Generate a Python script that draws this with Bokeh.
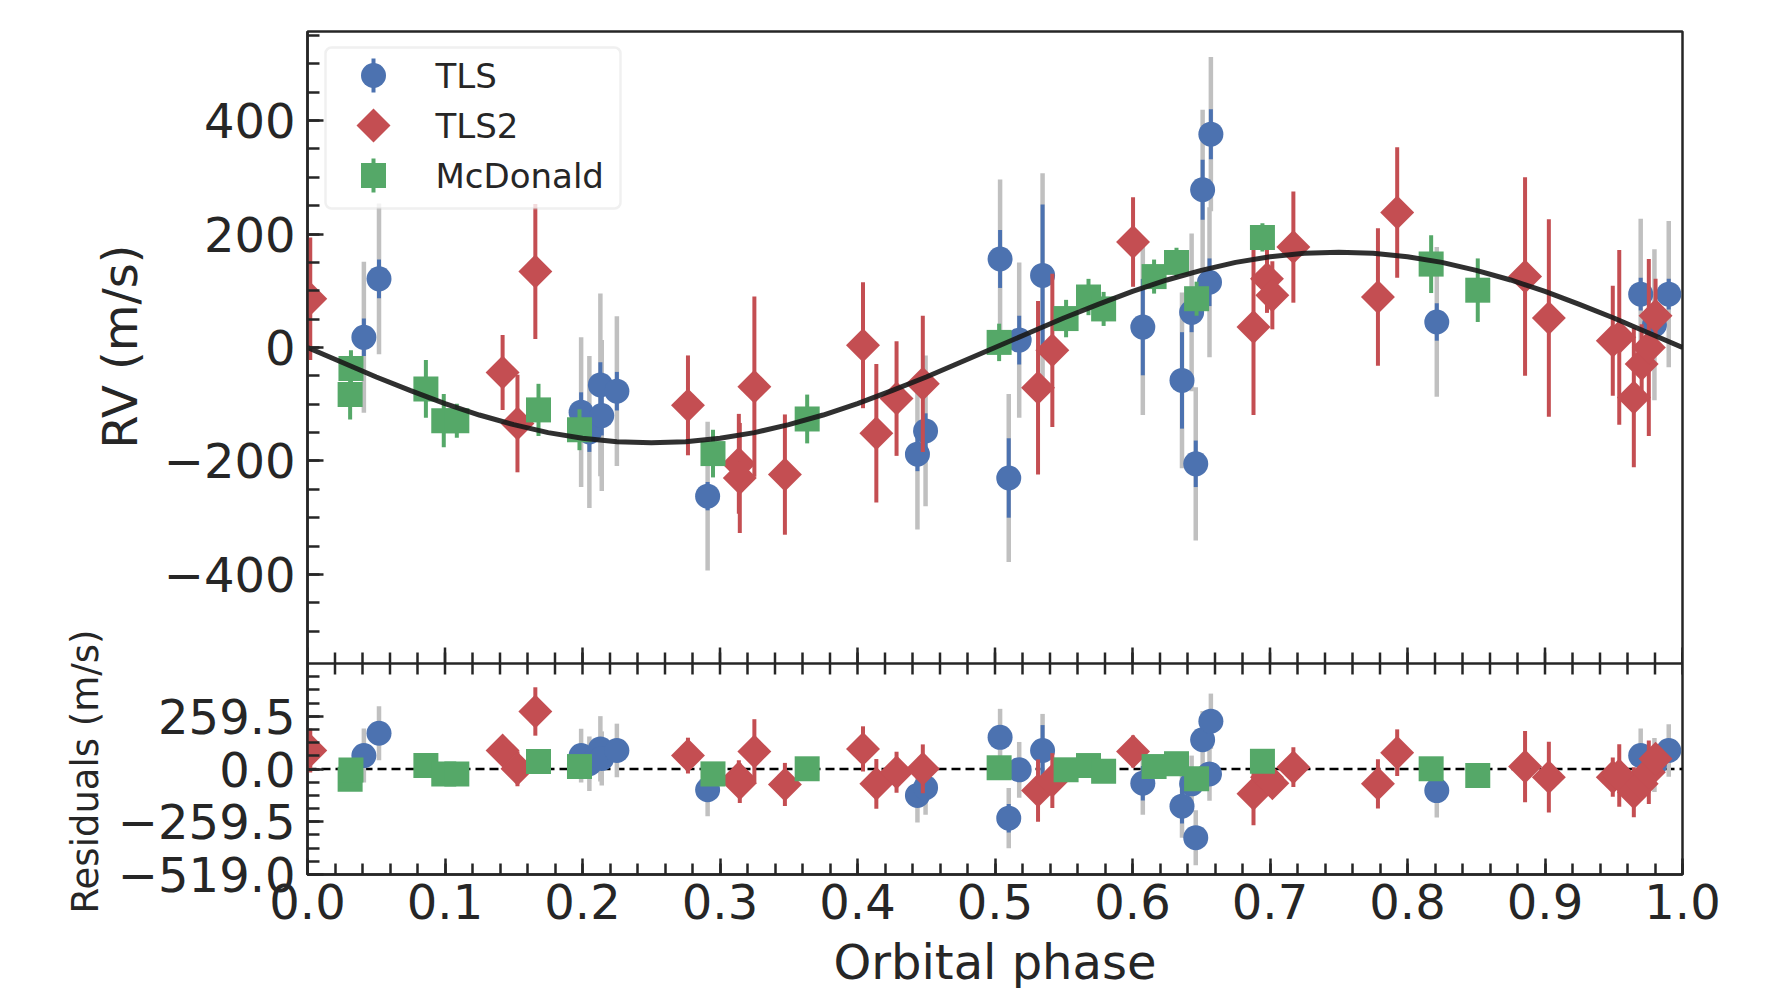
import numpy as np
from bokeh.plotting import figure
from bokeh.models import FixedTicker, Span, Range1d, Label, BoxAnnotation, Title
from bokeh.embed import file_html
from bokeh.resources import INLINE

FONT = "DejaVu Sans"
TXT = "#262626"
BLUE = "#4C72B0"
RED = "#C44E52"
GREEN = "#55A868"
GRAY = "#c0c0c0"

# ---------------- data ----------------
tls_phase = [0.041, 0.052, 0.199, 0.205, 0.213, 0.214, 0.225, 0.291, 0.4436, 0.4495,
             0.5037, 0.510, 0.5176, 0.5346, 0.6075, 0.636, 0.643, 0.646, 0.651, 0.656,
             0.657, 0.8213, 0.9696, 0.9796, 0.990]
tls_rv = [18, 121, -114, -149, -66, -120, -77, -262, -188, -147,
          156, -230, 13, 127, 36, -58, 62, -205, 278, 115,
          376, 45, 94, 40, 94]
tls_err = [33, 34, 35, 35, 40, 35, 34, 25, 30, 31,
           51, 70, 43, 125, 85, 85, 35, 41, 53, 42,
           44, 33, 29, 30, 27]
tls_err_jit = [133, 133, 132, 134, 161, 133, 132, 131, 133, 133,
               140, 148, 137, 180, 155, 155, 139, 135, 141, 132,
               136, 132, 133, 133, 129]
tls_res = [66, 176, 66, 26, 99, 52, 91, -102, -130, -92,
           156, -242, -4, 91, -70, -183, -73, -338, 144, -24,
           235, -106, 66, 20, 91]

tls2_phase = [0.002, 0.1419, 0.1527, 0.1657, 0.2767, 0.3137, 0.3144, 0.325, 0.3472, 0.404,
              0.4137, 0.4284, 0.4475, 0.5313, 0.5417, 0.6004, 0.688, 0.6978, 0.7017, 0.717,
              0.7785, 0.7925, 0.8855, 0.9028, 0.9493, 0.954, 0.9646, 0.9703, 0.9755, 0.9804]
tls2_rv = [86, -44, -134, 134, -102, -205, -230, -69, -224, 4,
           -151, -90, -64, -71, -5, 186, 36, 121, 92, 177,
           89, 238, 125, 52, 12, 18, -88, -29, 0, 56]
tls2_err = [108, 66, 86, 119, 88, 88, 97, 159, 106, 111,
            122, 101, 120, 153, 135, 79, 155, 60, 60, 98,
            121, 115, 175, 174, 97, 154, 123, 70, 156, 65]
tls2_res = [91, 91, 1, 283, 66, -45, -70, 86, -76, 99,
            -73, -16, 1, -106, -57, 86, -122, -40, -70, 9,
            -73, 80, 12, -40, -40, -32, -114, -73, -16, 50]

mcd_phase = [0.031, 0.0316, 0.0861, 0.0991, 0.1086, 0.168, 0.1978, 0.2949, 0.3634, 0.503,
             0.5517, 0.568, 0.579, 0.6157, 0.632, 0.6466, 0.6945, 0.8172, 0.8511]
mcd_rv = [-83, -37, -73, -129, -129, -110, -145, -187, -126, 9,
          51, 89, 68, 125, 150, 86, 194, 147, 101]
mcd_err = [44, 32, 51, 47, 30, 46, 36, 42, 43, 33,
           33, 32, 30, 30, 26, 30, 25, 51, 56]
mcd_res = [-50, -5, 17, -24, -24, 37, 12, -24, 1, 6,
           -4, 17, -11, 12, 26, -48, 38, 1, -32]

model_phase = [0.0, 0.025, 0.05, 0.075, 0.1, 0.125, 0.15, 0.175, 0.2, 0.225,
               0.25, 0.275, 0.3, 0.325, 0.35, 0.375, 0.4, 0.425, 0.45, 0.475,
               0.5, 0.525, 0.55, 0.575, 0.6, 0.625, 0.65, 0.675, 0.7, 0.725,
               0.75, 0.775, 0.8, 0.825, 0.85, 0.875, 0.9, 0.925, 0.95, 0.975, 1.0]
model_rv = [0, -26, -52, -76, -99, -119, -136, -150, -160, -166,
            -168, -166, -160, -150, -136, -119, -99, -76, -52, -26,
            0, 26, 52, 76, 99, 119, 136, 150, 160, 166,
            168, 166, 160, 150, 136, 119, 99, 76, 52, 26, 0]

series_names = ["TLS", "TLS2", "McDonald"]

x_ticks = [0.0, 0.1, 0.2, 0.3, 0.4, 0.5, 0.6, 0.7, 0.8, 0.9, 1.0]
x_labels = ["0.0", "0.1", "0.2", "0.3", "0.4", "0.5", "0.6", "0.7", "0.8", "0.9", "1.0"]
rv_ticks = [-400, -200, 0, 200, 400]
rv_labels = ["\u2212400", "\u2212200", "0", "200", "400"]
res_ticks = [-519.0, -259.5, 0.0, 259.5]
res_labels = ["\u2212519.0", "\u2212259.5", "0.0", "259.5"]

x_minor = list(np.round(np.arange(0, 1.0001, 0.02), 4))
rv_minor = list(np.arange(-500, 551, 50))
res_minor = list(np.arange(-519, 519.01, 64.875))[:-1]

# ---------------- layout (pixels) ----------------
W, H = 1776, 988
FRAME_L, FRAME_W = 307, 1375
FRAME_T = 31
TOP_H = 632          # height of RV panel
RES_H = 211          # height of residual panel
FRAME_H = TOP_H + RES_H
RV_LIM = (-557, 557)
RES_LIM = (-519, 519)
LW = 2.5

rv_per_px = (RV_LIM[1] - RV_LIM[0]) / TOP_H
res_per_px = (RES_LIM[1] - RES_LIM[0]) / RES_H
rv_bottom = RV_LIM[1] - FRAME_H * rv_per_px          # RV value at frame bottom
res_top = RES_LIM[0] + FRAME_H * res_per_px          # residual value at frame top


def res_to_rv(r):
    """position of a residual value expressed in the RV (default) y range"""
    return float(np.round(rv_bottom + (r - RES_LIM[0]) / res_per_px * rv_per_px, 6))


p = figure(frame_width=FRAME_W, frame_height=FRAME_H,
           min_border_left=FRAME_L, min_border_right=W - FRAME_L - FRAME_W,
           min_border_top=FRAME_T, min_border_bottom=H - FRAME_T - FRAME_H,
           x_range=Range1d(0, 1), y_range=Range1d(rv_bottom, RV_LIM[1]),
           output_backend="svg", toolbar_location=None, tools="")
p.extra_y_ranges = {"res": Range1d(RES_LIM[0], res_top)}
p.grid.visible = False
p.outline_line_color = TXT
p.outline_line_width = LW
p.background_fill_color = "white"
p.border_fill_color = "white"


def style_axis(ax, tick_in, minor_in, standoff):
    ax.axis_line_color = TXT
    ax.axis_line_width = LW
    ax.major_tick_line_color = TXT
    ax.minor_tick_line_color = TXT
    ax.major_tick_line_width = LW
    ax.minor_tick_line_width = LW
    ax.major_tick_in = tick_in
    ax.major_tick_out = 0
    ax.minor_tick_in = minor_in
    ax.minor_tick_out = 0
    ax.major_label_text_font = FONT
    ax.major_label_text_font_size = "48px"
    ax.major_label_text_color = TXT
    ax.major_label_standoff = standoff
    ax.axis_label_text_font = FONT
    ax.axis_label_text_font_style = "normal"
    ax.axis_label_text_color = TXT


# left axis: RV ticks for the top panel, residual ticks for the bottom panel
ya = p.yaxis[0]
res_pos = [res_to_rv(r) for r in res_ticks]
ya.ticker = FixedTicker(ticks=rv_ticks + res_pos,
                        minor_ticks=rv_minor + [res_to_rv(m) for m in res_minor])
ya.major_label_overrides = {**dict(zip(rv_ticks, rv_labels)), **dict(zip(res_pos, res_labels))}
style_axis(ya, 16, 12, 12)

# axis titles of the two panels (side-panel titles, stacked outside the tick labels)
p.add_layout(Title(text="RV (m/s)", align="right", vertical_align="bottom",
                   offset=244 - FRAME_T, standoff=-66,
                   text_font=FONT, text_font_size="48px", text_font_style="normal",
                   text_color=TXT), "left")
p.add_layout(Title(text="Residuals (m/s)", align="right", vertical_align="middle",
                   offset=629 - FRAME_T, standoff=14,
                   text_font=FONT, text_font_size="37px", text_font_style="normal",
                   text_color=TXT), "left")

# bottom axis
xa = p.xaxis[0]
xa.ticker = FixedTicker(ticks=x_ticks, minor_ticks=x_minor)
xa.major_label_overrides = dict(zip(x_ticks, x_labels))
style_axis(xa, 16, 11, 9)
xa.axis_label = "Orbital phase"
xa.axis_label_text_font_size = "48px"
xa.axis_label_standoff = 12

# panel separator with its ticks (top panel: up, residual panel: down)
sep_rv = RV_LIM[0]
p.add_layout(Span(location=sep_rv, dimension="width", line_color=TXT,
                  line_width=LW, level="overlay"))
xt = np.asarray(x_ticks, float)
xm = np.asarray(x_minor, float)
p.segment(x0=xt, y0=np.full(len(xt), sep_rv), x1=xt, y1=np.full(len(xt), sep_rv + 16 * rv_per_px),
          line_color=TXT, line_width=LW)
p.segment(x0=xm, y0=np.full(len(xm), sep_rv), x1=xm, y1=np.full(len(xm), sep_rv + 11 * rv_per_px),
          line_color=TXT, line_width=LW)
p.segment(x0=xm, y0=np.full(len(xm), RES_LIM[1]), x1=xm,
          y1=np.full(len(xm), RES_LIM[1] - 11 * res_per_px),
          line_color=TXT, line_width=LW, y_range_name="res")

# zero line of residuals
p.add_layout(Span(location=0, dimension="width", line_color="black", y_range_name="res",
                  line_width=2.5, line_dash="9 5", level="underlay"))


def error_bars(xs, ys, errs, color, width=4, **kw):
    xs = np.asarray(xs, float)
    ys = np.asarray(ys, float)
    errs = np.asarray(errs, float)
    return p.segment(x0=xs, y0=ys - errs, x1=xs, y1=ys + errs,
                     line_color=color, line_width=width, **kw)


def draw_data(y_tls, y_tls2, y_mcd, **kw):
    error_bars(tls_phase, y_tls, tls_err_jit, GRAY, 4.5, **kw)
    error_bars(tls_phase, y_tls, tls_err, BLUE, 4, **kw)
    p.scatter(tls_phase, y_tls, marker="circle", size=25,
              fill_color=BLUE, line_color=BLUE, line_width=0, **kw)
    error_bars(tls2_phase, y_tls2, tls2_err, RED, 4, **kw)
    p.scatter(tls2_phase, y_tls2, marker="square", size=24, angle=np.pi / 4,
              fill_color=RED, line_color=RED, line_width=0, **kw)
    error_bars(mcd_phase, y_mcd, mcd_err, GREEN, 4, **kw)
    p.scatter(mcd_phase, y_mcd, marker="square", size=25,
              fill_color=GREEN, line_color=GREEN, line_width=0, **kw)


draw_data(tls_rv, tls2_rv, mcd_rv)
p.line(model_phase, model_rv, line_color="#1a1a1a", line_width=5, line_alpha=0.9)
draw_data(tls_res, tls2_res, mcd_res, y_range_name="res")


# ---------------- legend ----------------
def px_to_x(px):
    return (px - FRAME_L) / FRAME_W


def px_to_y(py):
    return RV_LIM[1] - (py - FRAME_T) * rv_per_px


LEG_BOX = (325, 620, 47, 208)       # left, right, top, bottom (px)
LEG_ROWS = [75, 125, 175]          # row centres (px)
LEG_MARK_X, LEG_TEXT_X = 373, 435

box = BoxAnnotation(left=px_to_x(LEG_BOX[0]), right=px_to_x(LEG_BOX[1]),
                    top=px_to_y(LEG_BOX[2]), bottom=px_to_y(LEG_BOX[3]),
                    fill_color="white", fill_alpha=0.8,
                    line_color="#cccccc", line_width=2.5, level="annotation")
if "border_radius" in BoxAnnotation.properties():
    box.border_radius = 6
p.add_layout(box)

mx = px_to_x(LEG_MARK_X)
leg_y = [px_to_y(r) for r in LEG_ROWS]
leg_half = 17 * rv_per_px
for yy, col in ((leg_y[0], BLUE), (leg_y[2], GREEN)):
    p.segment(x0=[mx], y0=[yy - leg_half], x1=[mx], y1=[yy + leg_half],
              line_color=col, line_width=4, level="overlay")
p.scatter([mx], [leg_y[0]], marker="circle", size=25, fill_color=BLUE,
          line_width=0, level="overlay")
p.scatter([mx], [leg_y[1]], marker="square", size=24, angle=np.pi / 4,
          fill_color=RED, line_width=0, level="overlay")
p.scatter([mx], [leg_y[2]], marker="square", size=25, fill_color=GREEN,
          line_width=0, level="overlay")
for name, yy in zip(series_names, leg_y):
    p.add_layout(Label(x=px_to_x(LEG_TEXT_X), y=yy, text=name,
                       text_font=FONT, text_font_size="34px", text_color=TXT,
                       text_baseline="middle", text_align="left", level="overlay"))

open("out.html", "w").write(file_html(p, INLINE))
